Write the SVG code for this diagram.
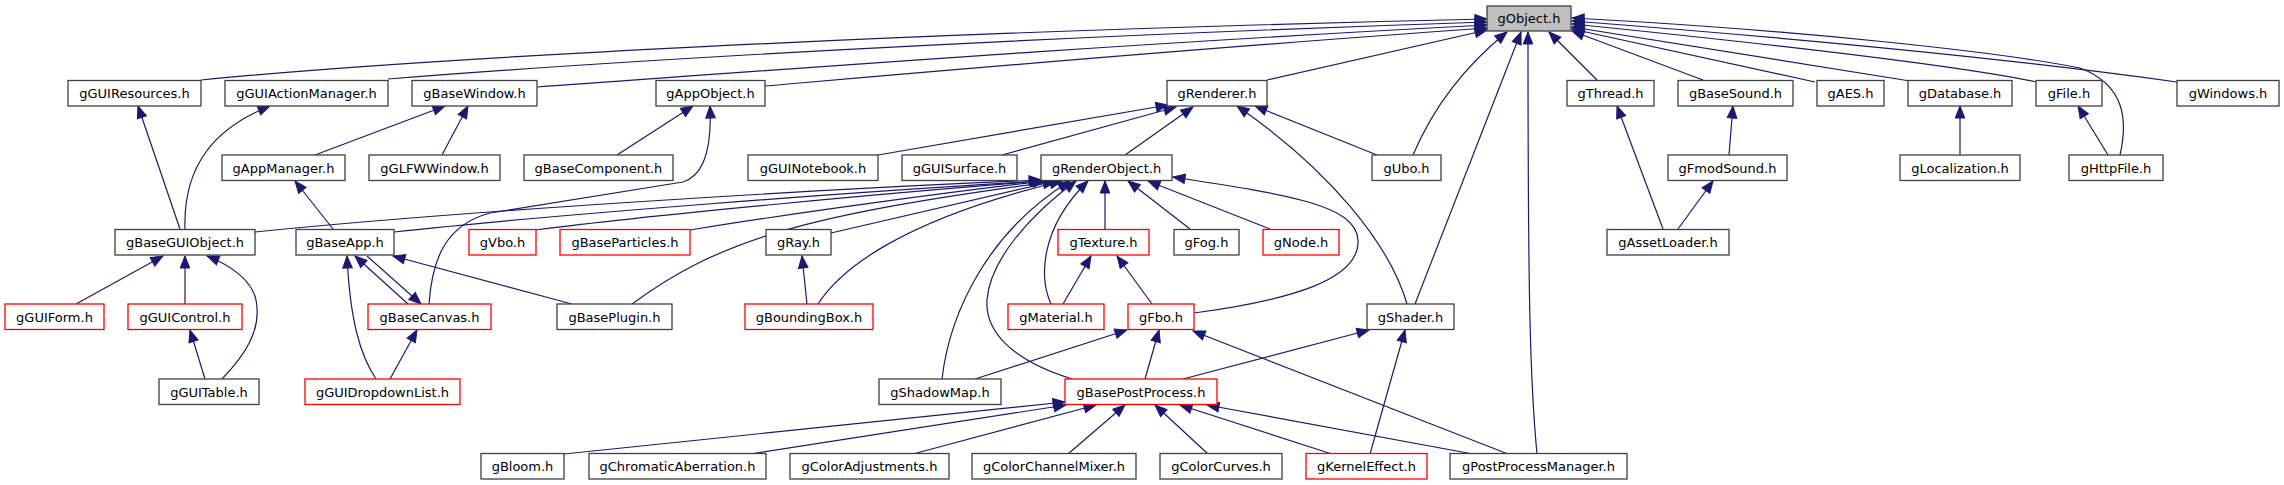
<svg xmlns="http://www.w3.org/2000/svg" width="2284" height="485" viewBox="0 0 2284 485">
<defs>
<marker id="ah" markerUnits="userSpaceOnUse" orient="auto" overflow="visible" markerWidth="1" markerHeight="1" refX="0" refY="0"><path d="M0,0 L-12,-4.8 L-12,4.8 z" fill="#191970" stroke="#191970" stroke-width="1"/></marker>
</defs>
<style>
.n rect{fill:#fff;stroke:#404040;stroke-width:1.3}
.r rect{fill:#fff;stroke:#ff0000;stroke-width:1.3}
.g rect{fill:#bfbfbf;stroke:#404040;stroke-width:1.3}
text{font-family:"DejaVu Sans",Verdana,sans-serif;font-size:13px;fill:#000;text-anchor:middle}
#edges path{fill:none;stroke:#191970;stroke-width:1.2;marker-end:url(#ah)}
</style>
<rect width="2284" height="485" fill="#fff"/>
<g id="edges">
<path d="M201,80 C400,60 900,32 1487,19"/>
<path d="M388,79 C600,62 1000,38 1487,22"/>
<path d="M537,87 C750,72 1100,45 1487,25"/>
<path d="M765,86 C950,70 1200,48 1487,28"/>
<path d="M1267,80 L1487,30"/>
<path d="M1413,155 C1430,115 1460,70 1507,32"/>
<path d="M1415,304 L1521,32"/>
<path d="M1537,454 C1530,380 1528,300 1528,32"/>
<path d="M1597,80 L1549,32"/>
<path d="M1703,80 L1572,31"/>
<path d="M1815,82 L1572,29"/>
<path d="M1910,81 L1572,27"/>
<path d="M2037,82 Q1930,60 1572,24"/>
<path d="M2177,82 Q1950,50 1572,21"/>
<path d="M2120,155 C2128,120 2125,85 2080,68 C2000,52 1800,30 1572,18"/>
<path d="M878,155 L1168,105"/>
<path d="M1002,155 L1176,107"/>
<path d="M1125,155 L1193,107"/>
<path d="M1377,155 L1255,106"/>
<path d="M1407,304 C1390,245 1330,170 1237,106"/>
<path d="M255,232 C450,212 800,190 1041,180"/>
<path d="M394,232 C550,215 850,192 1042,181"/>
<path d="M536,230 C650,215 900,192 1043,181"/>
<path d="M690,230 C800,212 950,192 1045,181"/>
<path d="M831,233 L1055,181"/>
<path d="M632,304 C720,240 800,215 1057,181"/>
<path d="M818,304 C840,270 900,220 1062,181"/>
<path d="M942,379 C950,310 990,230 1070,181"/>
<path d="M1072,379 C1010,360 985,330 987,300 C990,260 1030,215 1076,181"/>
<path d="M1051,304 C1040,280 1038,230 1088,181"/>
<path d="M1105,229 L1105,181"/>
<path d="M1190,229 L1128,181"/>
<path d="M1270,229 L1148,181"/>
<path d="M1194,313 C1290,300 1360,280 1358,240 C1356,205 1290,195 1173,177"/>
<path d="M1063,304 L1091,256"/>
<path d="M1152,304 L1117,256"/>
<path d="M975,379 L1127,330"/>
<path d="M1145,379 L1159,330"/>
<path d="M1508,454 L1193,331"/>
<path d="M1183,379 L1369,330"/>
<path d="M1370,454 L1405,330"/>
<path d="M564,454 L1065,402"/>
<path d="M750,454 L1066,405"/>
<path d="M913,454 L1096,405"/>
<path d="M1068,454 L1125,405"/>
<path d="M1208,454 L1155,405"/>
<path d="M1332,454 L1180,405"/>
<path d="M1473,454 L1207,405"/>
<path d="M76,304 L163,256"/>
<path d="M185,304 L185,256"/>
<path d="M222,379 C245,355 262,330 256,300 C252,280 230,265 207,256"/>
<path d="M205,379 L190,330"/>
<path d="M185,229 C183,165 215,128 270,106"/>
<path d="M180,229 L138,106"/>
<path d="M315,155 L445,106"/>
<path d="M442,155 L468,106"/>
<path d="M617,155 L693,106"/>
<path d="M333,229 L295,181"/>
<path d="M429,304 C432,260 445,225 490,213 L683,182 C703,176 712,150 710,106"/>
<path d="M376,379 C360,355 350,320 347,256"/>
<path d="M390,379 L417,330"/>
<path d="M408,304 L355,256"/>
<path d="M367,256 L421,304"/>
<path d="M572,304 L393,256"/>
<path d="M1729,155 L1733,106"/>
<path d="M1663,229 L1617,106"/>
<path d="M1678,229 L1713,181"/>
<path d="M1960,155 L1960,106"/>
<path d="M2108,155 L2078,106"/>
<path d="M807,304 L802,256"/>
</g>
<g id="gObject" class="g"><rect x="1487" y="6" width="84" height="25"/><text x="1529" y="23">gObject.h</text></g>
<g id="gGUIResources" class="n"><rect x="68" y="80.5" width="133" height="25.5"/><text x="134.5" y="98">gGUIResources.h</text></g>
<g id="gGUIActionManager" class="n"><rect x="225" y="80.5" width="163" height="25.5"/><text x="306.5" y="98">gGUIActionManager.h</text></g>
<g id="gBaseWindow" class="n"><rect x="412" y="80.5" width="125" height="25.5"/><text x="474.5" y="98">gBaseWindow.h</text></g>
<g id="gAppObject" class="n"><rect x="656" y="80.5" width="109" height="25.5"/><text x="710.5" y="98">gAppObject.h</text></g>
<g id="gRenderer" class="n"><rect x="1167" y="80.5" width="100" height="25.5"/><text x="1217" y="98">gRenderer.h</text></g>
<g id="gThread" class="n"><rect x="1567" y="80.5" width="87" height="25.5"/><text x="1610.5" y="98">gThread.h</text></g>
<g id="gBaseSound" class="n"><rect x="1678" y="80.5" width="115" height="25.5"/><text x="1735.5" y="98">gBaseSound.h</text></g>
<g id="gAES" class="n"><rect x="1817" y="80.5" width="67" height="25.5"/><text x="1850.5" y="98">gAES.h</text></g>
<g id="gDatabase" class="n"><rect x="1908" y="80.5" width="104" height="25.5"/><text x="1960" y="98">gDatabase.h</text></g>
<g id="gFile" class="n"><rect x="2036" y="80.5" width="66" height="25.5"/><text x="2069" y="98">gFile.h</text></g>
<g id="gWindows" class="n"><rect x="2177" y="80.5" width="102" height="25.5"/><text x="2228" y="98">gWindows.h</text></g>
<g id="gAppManager" class="n"><rect x="222" y="155" width="123" height="25.5"/><text x="283.5" y="172.5">gAppManager.h</text></g>
<g id="gGLFWWindow" class="n"><rect x="369" y="155" width="131" height="25.5"/><text x="434.5" y="172.5">gGLFWWindow.h</text></g>
<g id="gBaseComponent" class="n"><rect x="524" y="155" width="149" height="25.5"/><text x="598.5" y="172.5">gBaseComponent.h</text></g>
<g id="gGUINotebook" class="n"><rect x="748" y="155" width="130" height="25.5"/><text x="813" y="172.5">gGUINotebook.h</text></g>
<g id="gGUISurface" class="n"><rect x="902" y="155" width="115" height="25.5"/><text x="959.5" y="172.5">gGUISurface.h</text></g>
<g id="gRenderObject" class="n"><rect x="1041" y="155" width="131" height="25.5"/><text x="1106.5" y="172.5">gRenderObject.h</text></g>
<g id="gUbo" class="n"><rect x="1372" y="155" width="69" height="25.5"/><text x="1406.5" y="172.5">gUbo.h</text></g>
<g id="gFmodSound" class="n"><rect x="1668" y="155" width="119" height="25.5"/><text x="1727.5" y="172.5">gFmodSound.h</text></g>
<g id="gLocalization" class="n"><rect x="1900" y="155" width="120" height="25.5"/><text x="1960" y="172.5">gLocalization.h</text></g>
<g id="gHttpFile" class="n"><rect x="2069" y="155" width="94" height="25.5"/><text x="2116" y="172.5">gHttpFile.h</text></g>
<g id="gBaseGUIObject" class="n"><rect x="115" y="229.5" width="140" height="25.5"/><text x="185" y="247">gBaseGUIObject.h</text></g>
<g id="gBaseApp" class="n"><rect x="296" y="229.5" width="98" height="25.5"/><text x="345" y="247">gBaseApp.h</text></g>
<g id="gVbo" class="r"><rect x="469" y="229.5" width="67" height="25.5"/><text x="502.5" y="247">gVbo.h</text></g>
<g id="gBaseParticles" class="r"><rect x="560" y="229.5" width="130" height="25.5"/><text x="625" y="247">gBaseParticles.h</text></g>
<g id="gRay" class="n"><rect x="766" y="229.5" width="65" height="25.5"/><text x="798.5" y="247">gRay.h</text></g>
<g id="gTexture" class="r"><rect x="1058" y="229.5" width="91" height="25.5"/><text x="1103.5" y="247">gTexture.h</text></g>
<g id="gFog" class="n"><rect x="1174" y="229.5" width="65" height="25.5"/><text x="1206.5" y="247">gFog.h</text></g>
<g id="gNode" class="r"><rect x="1263" y="229.5" width="76" height="25.5"/><text x="1301" y="247">gNode.h</text></g>
<g id="gAssetLoader" class="n"><rect x="1607" y="229.5" width="122" height="25.5"/><text x="1668" y="247">gAssetLoader.h</text></g>
<g id="gGUIForm" class="r"><rect x="5" y="304" width="99" height="25.5"/><text x="54.5" y="321.5">gGUIForm.h</text></g>
<g id="gGUIControl" class="r"><rect x="128" y="304" width="114" height="25.5"/><text x="185" y="321.5">gGUIControl.h</text></g>
<g id="gBaseCanvas" class="r"><rect x="368" y="304" width="123" height="25.5"/><text x="429.5" y="321.5">gBaseCanvas.h</text></g>
<g id="gBasePlugin" class="n"><rect x="557" y="304" width="115" height="25.5"/><text x="614.5" y="321.5">gBasePlugin.h</text></g>
<g id="gBoundingBox" class="r"><rect x="745" y="304" width="128" height="25.5"/><text x="809" y="321.5">gBoundingBox.h</text></g>
<g id="gMaterial" class="r"><rect x="1008" y="304" width="96" height="25.5"/><text x="1056" y="321.5">gMaterial.h</text></g>
<g id="gFbo" class="r"><rect x="1128" y="304" width="66" height="25.5"/><text x="1161" y="321.5">gFbo.h</text></g>
<g id="gShader" class="n"><rect x="1367" y="304" width="87" height="25.5"/><text x="1410.5" y="321.5">gShader.h</text></g>
<g id="gGUITable" class="n"><rect x="159" y="379" width="100" height="25.5"/><text x="209" y="396.5">gGUITable.h</text></g>
<g id="gGUIDropdownList" class="r"><rect x="305" y="379" width="155" height="25.5"/><text x="382.5" y="396.5">gGUIDropdownList.h</text></g>
<g id="gShadowMap" class="n"><rect x="879" y="379" width="122" height="25.5"/><text x="940" y="396.5">gShadowMap.h</text></g>
<g id="gBasePostProcess" class="r"><rect x="1065" y="379" width="152" height="25.5"/><text x="1141" y="396.5">gBasePostProcess.h</text></g>
<g id="gBloom" class="n"><rect x="481" y="453.5" width="83" height="25.5"/><text x="522.5" y="471">gBloom.h</text></g>
<g id="gChromaticAberration" class="n"><rect x="589" y="453.5" width="177" height="25.5"/><text x="677.5" y="471">gChromaticAberration.h</text></g>
<g id="gColorAdjustments" class="n"><rect x="790" y="453.5" width="159" height="25.5"/><text x="869.5" y="471">gColorAdjustments.h</text></g>
<g id="gColorChannelMixer" class="n"><rect x="972" y="453.5" width="164" height="25.5"/><text x="1054" y="471">gColorChannelMixer.h</text></g>
<g id="gColorCurves" class="n"><rect x="1160" y="453.5" width="122" height="25.5"/><text x="1221" y="471">gColorCurves.h</text></g>
<g id="gKernelEffect" class="r"><rect x="1306" y="453.5" width="121" height="25.5"/><text x="1366.5" y="471">gKernelEffect.h</text></g>
<g id="gPostProcessManager" class="n"><rect x="1450" y="453.5" width="177" height="25.5"/><text x="1538.5" y="471">gPostProcessManager.h</text></g>
</svg>
